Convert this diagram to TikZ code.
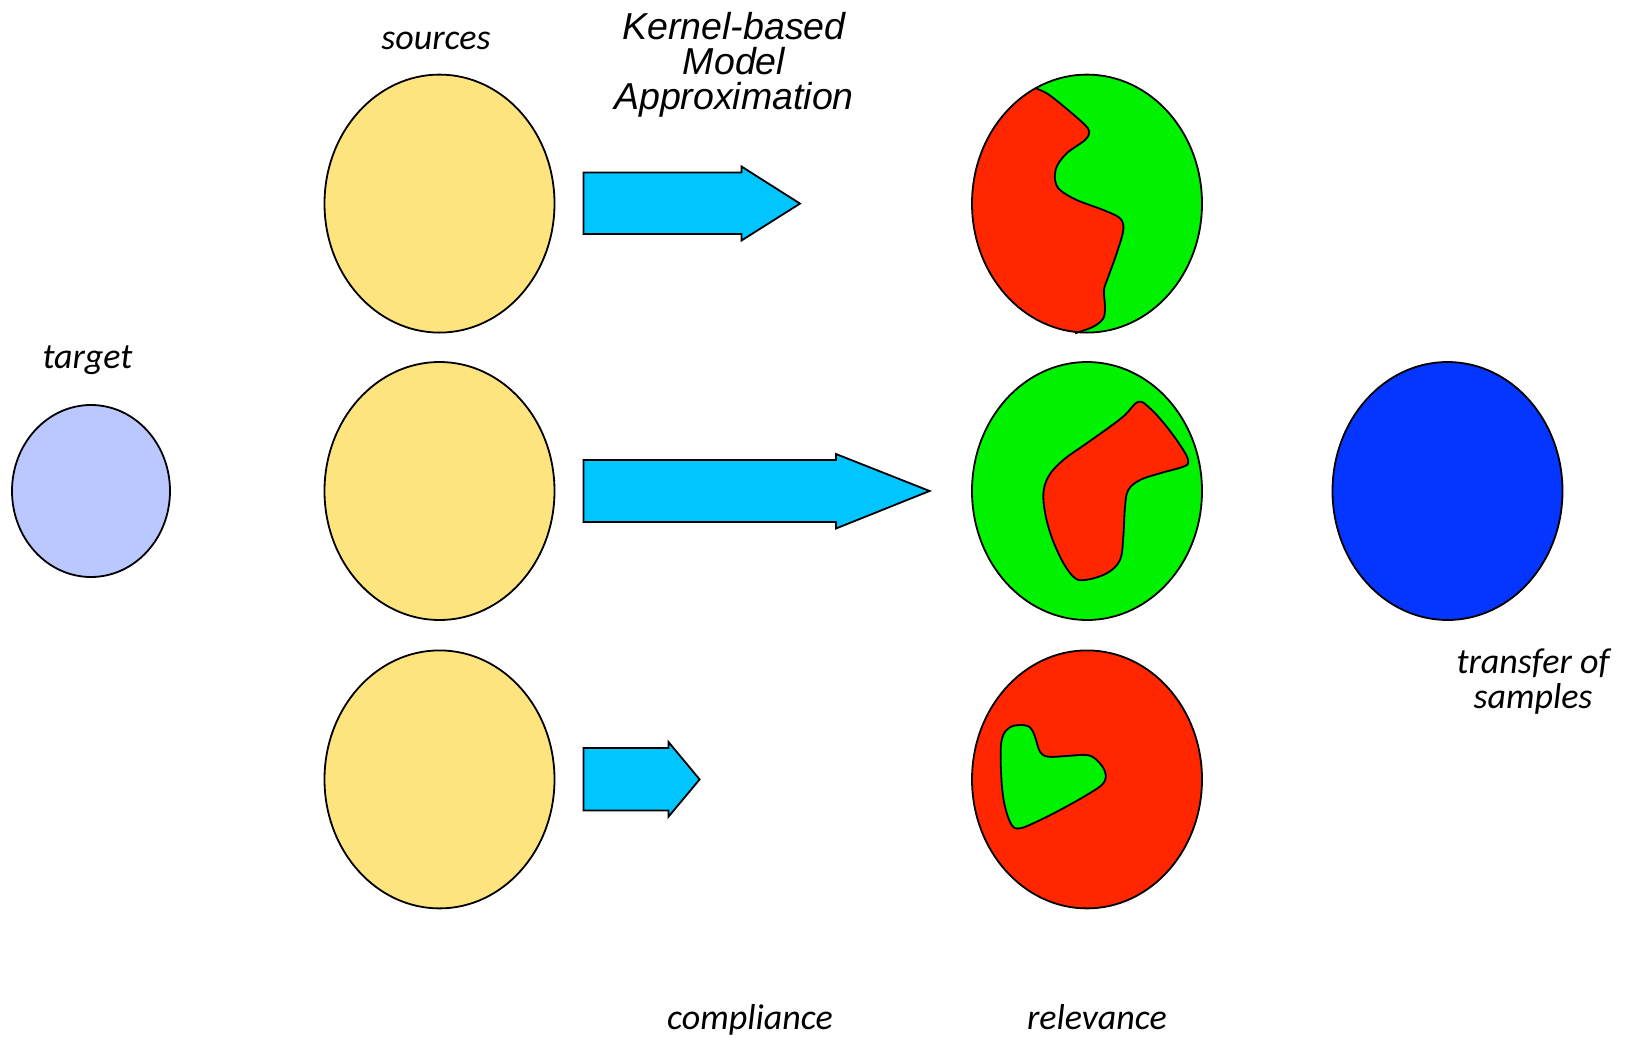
\documentclass[tikz,border=0pt]{standalone}
\usepackage{fontspec}
\setmainfont{Carlito}
\newfontfamily\arialish{Liberation Sans}
\begin{document}
\definecolor{srcyellow}{RGB}{253,228,127}
\definecolor{tgtblue}{RGB}{187,199,255}
\definecolor{deepblue}{RGB}{5,54,255}
\definecolor{brightgreen}{RGB}{0,242,0}
\definecolor{hotred}{RGB}{255,38,0}
\definecolor{skycyan}{RGB}{0,197,255}
\begin{tikzpicture}[x=1pt,y=-1pt,
  outline/.style={draw=black,line width=1.8pt},
  blob/.style={outline,line join=round},
  fatarrow/.style={draw=black,line width=1.8pt,fill=skycyan,line join=miter},
  lbl/.style={inner sep=0pt,anchor=base,font=\itshape\fontsize{36}{35}\selectfont,align=center},
  kbl/.style={inner sep=0pt,anchor=base,font=\arialish\itshape\fontsize{37.5}{35}\selectfont,align=center},
  bigoval/.style={x radius=115pt,y radius=129pt}]
\useasboundingbox (0,0) rectangle (1625,1038);

% target domain
\fill[tgtblue] (91,491) ellipse [x radius=79pt,y radius=86pt];
\draw[outline] (91,491) ellipse [x radius=79pt,y radius=86pt];
\coordinate (tgt) at (91,491);

% source domains
\foreach \yy/\nm in {203.6/s1,491/s2,779.4/s3}{
  \fill[srcyellow] (439.5,\yy) ellipse [bigoval];
  \draw[outline] (439.5,\yy) ellipse [bigoval];
  \coordinate (\nm) at (439.5,\yy);
}

% approximation arrows
\draw[fatarrow] (583.5,172.5) -- (741.5,172.5) -- (741.5,166.5) -- (800,203.6)
  -- (741.5,240.5) -- (741.5,234) -- (583.5,234) -- cycle;
\draw[fatarrow] (583.5,460) -- (836,460) -- (836,454) -- (929.6,491)
  -- (836,528.5) -- (836,522) -- (583.5,522) -- cycle;
\draw[fatarrow] (583.5,748) -- (668.5,748) -- (668.5,742) -- (699.6,779.4)
  -- (668.5,816.7) -- (668.5,810.5) -- (583.5,810.5) -- cycle;

% relevance, top: red region along the left side
\coordinate (r1) at (1087,203.6);
\fill[brightgreen] (r1) ellipse [bigoval];
\begin{scope}
  \clip (r1) ellipse [bigoval];
  \fill[hotred] (950,70) -- (1036,70) -- plot[smooth,tension=0.55] coordinates {
    (1036,88.3) (1046.7,93.3) (1060,103.3) (1083.3,123.3) (1089.3,131.7)
    (1085,140) (1066.7,153.3) (1056.7,166.7) (1055,180) (1060,190)
    (1076.7,200) (1103.3,210) (1120,218.3) (1123.3,230) (1116.7,253.3)
    (1108.3,276.7) (1104,290) (1105,306.7) (1103.3,318.3) (1093.3,326.7)
    (1075,333.3)} -- (1075,345) -- (950,345) -- cycle;
\end{scope}
\draw[blob] plot[smooth,tension=0.55] coordinates {
    (1036,88.3) (1046.7,93.3) (1060,103.3) (1083.3,123.3) (1089.3,131.7)
    (1085,140) (1066.7,153.3) (1056.7,166.7) (1055,180) (1060,190)
    (1076.7,200) (1103.3,210) (1120,218.3) (1123.3,230) (1116.7,253.3)
    (1108.3,276.7) (1104,290) (1105,306.7) (1103.3,318.3) (1093.3,326.7)
    (1075,333.3)};
\draw[outline] (r1) ellipse [bigoval];

% relevance, middle: red island in green
\coordinate (r2) at (1087,491);
\fill[brightgreen] (r2) ellipse [bigoval];
\draw[blob,fill=hotred] plot[smooth cycle,tension=0.6] coordinates {
    (1138.3,401.7) (1150,408.3) (1166.7,426.7) (1183.3,450) (1188.3,461.7)
    (1183.3,466.7) (1160,473.3) (1140,480) (1128.3,490) (1125,506.7)
    (1123.3,536.7) (1120,560) (1106.7,573.3) (1085,580) (1073.3,576.7)
    (1060,556.7) (1048.3,526.7) (1043.3,496.7) (1048.3,476.7) (1063.3,460)
    (1086.7,443.3) (1110,426.7) (1125,415)};
\draw[outline] (r2) ellipse [bigoval];

% relevance, bottom: green island in red
\coordinate (r3) at (1087,779.4);
\fill[hotred] (r3) ellipse [bigoval];
\draw[blob,fill=brightgreen] plot[smooth cycle,tension=0.6] coordinates {
    (1020,725) (1030,727.3) (1035,736.7) (1040,751.7) (1048.3,756.7)
    (1066.7,756) (1086.7,755) (1096.7,760) (1105,771.7) (1103.3,783.3)
    (1086.7,795) (1060,810) (1036.7,821.7) (1020,828.3) (1011.7,825)
    (1005,806.7) (1001.7,783.3) (1000.7,750) (1003.3,735) (1010,727.3)};
\draw[outline] (r3) ellipse [bigoval];

% transferred samples
\fill[deepblue] (1447.5,491) ellipse [bigoval];
\draw[outline] (1447.5,491) ellipse [bigoval];
\coordinate (tr) at (1447.5,491);

% labels (multi-line labels sit on the baseline of their last line)
\node[lbl] (ltarget) at (87.5,368) {target};
\node[lbl] (lsources) at (436,49.7) {sources};
\node[kbl] (lkbma) at (734,110) {Kernel-based\\Model\\Approximation};
\node[lbl] (ltransfer) at (1533,708) {transfer of\\samples};
\node[lbl] (lcompliance) at (750,1029) {compliance};
\node[lbl] (lrelevance) at (1097,1029) {relevance};
\end{tikzpicture}
\end{document}
